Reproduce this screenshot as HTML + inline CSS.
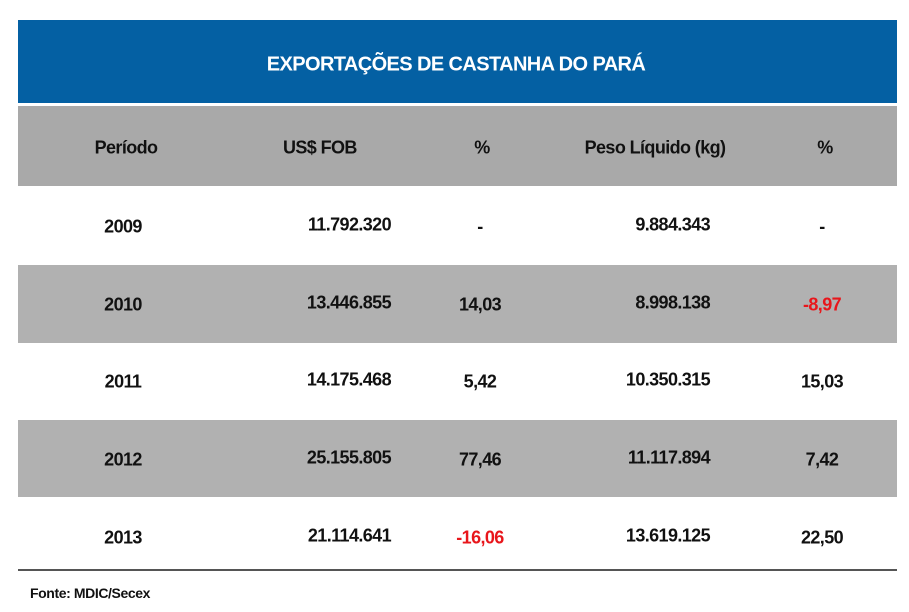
<!DOCTYPE html>
<html><head><meta charset="utf-8"><style>
body{margin:0;width:909px;height:612px;background:#fff;position:relative;overflow:hidden;font-family:"Liberation Sans",Arial,sans-serif;font-weight:bold;}
.a{position:absolute;}
.t{position:absolute;font-size:18px;letter-spacing:-0.6px;color:#111;white-space:nowrap;transform:translateY(-50%);}
.c{transform:translate(-50%,-50%);}
.r{transform:translate(-100%,-50%);}
.red{color:#e8161b;}
</style></head><body>
<div class="a" style="left:18px;top:20px;width:879px;height:83px;background:#0460a3;"></div>
<div class="t c" style="left:456px;top:65px;color:#fff;font-size:20px;">EXPORTAÇÕES DE CASTANHA DO PARÁ</div>
<div class="a" style="left:18px;top:106px;width:879px;height:80px;background:#a9a9a9;"></div>
<div class="a" style="left:18px;top:265px;width:879px;height:78px;background:#b1b1b1;"></div>
<div class="a" style="left:18px;top:420px;width:879px;height:77px;background:#b1b1b1;"></div>
<div class="a" style="left:18px;top:569px;width:879px;height:2px;background:#555;"></div>

<div class="t c" style="left:126px;top:148px;">Período</div>
<div class="t" style="left:283px;top:148px;">US$ FOB</div>
<div class="t c" style="left:482px;top:148px;">%</div>
<div class="t c" style="left:655px;top:148px;">Peso Líquido (kg)</div>
<div class="t c" style="left:825px;top:148px;">%</div>

<div id="rows"></div>
<div class="t" style="left:30px;top:593px;font-size:14px;letter-spacing:-0.4px;">Fonte: MDIC/Secex</div>
<script>
const years=["2009","2010","2011","2012","2013"];
const usd=["11.792.320","13.446.855","14.175.468","25.155.805","21.114.641"];
const pctUsd=["-","14,03","5,42","77,46","-16,06"];
const peso=["9.884.343","8.998.138","10.350.315","11.117.894","13.619.125"];
const pctPeso=["-","-8,97","15,03","7,42","22,50"];
const rowY=[227,305,382,460,538];
function cell(txt,cls,x,y,name){
  const d=document.createElement('div');
  d.className='t '+cls+(/^-\d/.test(txt)?' red':'');
  d.style.left=x+'px';d.style.top=y+'px';d.textContent=txt;
  
  
  document.body.appendChild(d);
}
years.forEach((y,i)=>{
  const ty=rowY[i];
  cell(y,'c',123,ty,'year-'+y);
  cell(usd[i],'r',391,ty-2,'usd-fob-'+y);
  cell(pctUsd[i],'c',480,ty,'pct-usd-'+y);
  cell(peso[i],'r',710,ty-2,'peso-'+y);
  cell(pctPeso[i],'c',822,ty,'pct-peso-'+y);
});
</script>
</body></html>
